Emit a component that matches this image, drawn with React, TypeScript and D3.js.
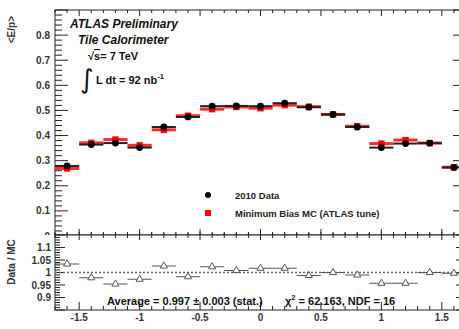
import React from "react";
import * as d3 from "d3";

const etaBins = [-1.6, -1.4, -1.2, -1.0, -0.8, -0.6, -0.4, -0.2, 0.0, 0.2, 0.4, 0.6, 0.8, 1.0, 1.2, 1.4, 1.6];
const dataVals = [0.279, 0.364, 0.370, 0.352, 0.434, 0.474, 0.517, 0.518, 0.517, 0.529, 0.513, 0.484, 0.434, 0.352, 0.368, 0.370, 0.273];
const mcVals = [0.269, 0.371, 0.384, 0.361, 0.423, 0.479, 0.505, 0.514, 0.509, 0.521, 0.515, 0.484, 0.437, 0.368, 0.382, 0.370, 0.274];
const ratioVals = [1.034, 0.979, 0.954, 0.973, 1.026, 0.983, 1.023, 1.008, 1.017, 1.017, 0.988, 1.0, 0.99, 0.957, 0.957, 1.0, 0.997];
const ratioErr = [0.004, 0.003, 0.003, 0.003, 0.003, 0.003, 0.003, 0.003, 0.003, 0.003, 0.003, 0.003, 0.003, 0.003, 0.003, 0.003, 0.004];
const topTicks = [0, 0.1, 0.2, 0.3, 0.4, 0.5, 0.6, 0.7, 0.8];
const ratioTicks = [0.9, 0.95, 1, 1.05, 1.1];
const xTicks = [-1.5, -1, -0.5, 0, 0.5, 1, 1.5];
const binHalf = 0.1;

const W = 459, H = 329;
const FL = 55, FR = 466, TT = 10, TB = 235, BB = 310;
const FONT = "'Liberation Sans', Arial, Helvetica, sans-serif";

export default function App() {
  const x = d3.scaleLinear().domain([-1.7, 1.7]).range([FL, FR]);
  const yT = d3.scaleLinear().domain([0, 0.9]).range([TB + 1, TT]);
  const yB = d3.scaleLinear().domain([0.85, 1.15]).range([BB, TB]);

  const xMinor = d3.range(-17, 18).map((i) => i / 10);
  const yTMinor = d3.range(0, 46).map((i) => i * 0.02).filter((v) => yT(v) >= TT && yT(v) <= TB);
  const yBMinor = d3.range(0, 31).map((i) => 0.85 + i * 0.01);
  const isMajorX = (v: number) => Math.abs(v * 2 - Math.round(v * 2)) < 1e-6;

  const tickCol = "#222";

  return (
    <svg width={W} height={H} style={{ position: "absolute", left: 0, top: 0, background: "#fff" }} fontFamily={FONT}>
      <rect x={0} y={0} width={W} height={H} fill="#fff" />
      {/* ---- top panel ---- */}
      {topTicks.map((t) => (
        <text key={"tl" + t} x={FL - 5} y={yT(t) + 3.5} fontSize={10} fontWeight="bold" fill="#333" textAnchor="end">
          {t === 0 ? "0" : t.toFixed(1)}
        </text>
      ))}
      {yTMinor.map((v, i) => {
        const major = Math.abs(v * 10 - Math.round(v * 10)) < 1e-6;
        const len = major ? 13 : 7;
        return (
          <g key={"ytm" + i} stroke={tickCol} strokeWidth={1}>
            <line x1={FL} x2={FL + len} y1={yT(v)} y2={yT(v)} />
            <line x1={FR} x2={FR - len} y1={yT(v)} y2={yT(v)} />
          </g>
        );
      })}
      {xMinor.map((v, i) => {
        const len = isMajorX(v) ? 6 : 3;
        return (
          <g key={"xt" + i} stroke={tickCol} strokeWidth={1}>
            <line x1={x(v)} x2={x(v)} y1={TT} y2={TT + len} />
            <line x1={x(v)} x2={x(v)} y1={TB} y2={TB - len} />
          </g>
        );
      })}
      <rect x={FL} y={TT} width={FR - FL} height={TB - TT} fill="none" stroke={tickCol} strokeWidth={1} />

      {etaBins.map((e, i) => (
        <line key={"mcl" + i} x1={x(e - binHalf)} x2={x(e + binHalf)} y1={yT(mcVals[i])} y2={yT(mcVals[i])} stroke="#ff2a2a" strokeWidth={3} />
      ))}
      {etaBins.map((e, i) => (
        <rect key={"mcm" + i} x={x(e) - 3.2} y={yT(mcVals[i]) - 3.2} width={6.4} height={6.4} fill="#ff0000" />
      ))}
      {etaBins.map((e, i) => (
        <line key={"dl" + i} x1={x(e - binHalf)} x2={x(e + binHalf)} y1={yT(dataVals[i])} y2={yT(dataVals[i])} stroke="#222" strokeWidth={2} />
      ))}
      {etaBins.map((e, i) => (
        <circle key={"dm" + i} cx={x(e)} cy={yT(dataVals[i])} r={3.4} fill="#000" />
      ))}

      <text x={70} y={28} fontSize={12} fontWeight="bold" fontStyle="italic" fill="#111">ATLAS Preliminary</text>
      <text x={78} y={44} fontSize={12} fontWeight="bold" fontStyle="italic" fill="#111">Tile Calorimeter</text>
      <text x={88} y={60} fontSize={11} fontWeight="bold" fill="#111">
        <tspan>√</tspan>
        <tspan textDecoration="overline">s</tspan>
        <tspan>= 7 TeV</tspan>
      </text>
      <text x={80} y={88} fontSize={26} fill="#111" fontFamily="'DejaVu Sans', sans-serif">∫</text>
      <text x={96} y={84} fontSize={11} fontWeight="bold" fill="#111">
        L dt = 92 nb<tspan dy={-5} fontSize={7.5}>-1</tspan>
      </text>

      <circle cx={208} cy={195} r={3} fill="#000" />
      <text x={235} y={198.5} fontSize={9.5} fontWeight="bold" fill="#222">2010 Data</text>
      <rect x={205} y={210} width={6} height={6} fill="#ff0000" />
      <text x={235} y={217} fontSize={9.5} fontWeight="bold" fill="#222">Minimum Bias MC (ATLAS tune)</text>

      <text transform={`translate(15,16) rotate(-90)`} fontSize={10} fontWeight="bold" fill="#333" textAnchor="end">&lt;E/p&gt;</text>

      {/* ---- bottom panel ---- */}
      <rect x={0} y={TB} width={W} height={H - TB} fill="#fff" />
      {ratioTicks.map((t) => (
        <text key={"rl" + t} x={FL - 4} y={yB(t) + 3.5} fontSize={10} fontWeight="bold" fill="#333" textAnchor="end">
          {t === 1 ? "1" : String(t)}
        </text>
      ))}
      {yBMinor.map((v, i) => {
        const major = Math.abs(v * 20 - Math.round(v * 20)) < 1e-6;
        const len = major ? 10 : 5;
        return (
          <g key={"ybm" + i} stroke={tickCol} strokeWidth={1}>
            <line x1={FL} x2={FL + len} y1={yB(v)} y2={yB(v)} />
            <line x1={FR} x2={FR - len} y1={yB(v)} y2={yB(v)} />
          </g>
        );
      })}
      {xMinor.map((v, i) => {
        const len = isMajorX(v) ? 8 : 4;
        return (
          <g key={"xb" + i} stroke={tickCol} strokeWidth={1}>
            <line x1={x(v)} x2={x(v)} y1={BB} y2={BB - len} />
            <line x1={x(v)} x2={x(v)} y1={TB} y2={TB + (isMajorX(v) ? 5 : 3)} />
          </g>
        );
      })}
      {xMinor.map((v, i) => (
        <line key={"xtu" + i} x1={x(v)} x2={x(v)} y1={TB} y2={TB - (isMajorX(v) ? 3 : 2)} stroke={tickCol} />
      ))}
      <rect x={FL} y={TB} width={FR - FL} height={BB - TB} fill="none" stroke={tickCol} strokeWidth={1} />
      <line x1={FL} x2={FR} y1={yB(1)} y2={yB(1)} stroke="#666" strokeWidth={1.5} strokeDasharray="2,2" />

      {etaBins.map((e, i) => (
        <g key={"r" + i} stroke="#555" strokeWidth={1} fill="#fff">
          <line x1={x(e - binHalf)} x2={x(e + binHalf)} y1={yB(ratioVals[i])} y2={yB(ratioVals[i])} />
          <line x1={x(e)} x2={x(e)} y1={yB(ratioVals[i] - ratioErr[i])} y2={yB(ratioVals[i] + ratioErr[i])} />
          <path d={d3.symbol(d3.symbolTriangle, 22)() || ""} transform={`translate(${x(e)},${yB(ratioVals[i])})`} />
        </g>
      ))}

      {xTicks.map((t) => (
        <text key={"xl" + t} x={x(t)} y={321} fontSize={10} fontWeight="bold" fill="#333" textAnchor="middle">
          {String(t)}
        </text>
      ))}

      <text x={107} y={305} fontSize={11} fontWeight="bold" fill="#111">Average = 0.997 ± 0.003 (stat.)</text>
      <text x={285} y={305} fontSize={11} fontWeight="bold" fill="#111">
        χ<tspan dy={-5} fontSize={7.5}>2</tspan><tspan dy={5}> = 62.163, NDF = 16</tspan>
      </text>

      <text transform={`translate(15,262) rotate(-90)`} fontSize={10} fontWeight="bold" fill="#333" textAnchor="middle">Data / MC</text>
    </svg>
  );
}
